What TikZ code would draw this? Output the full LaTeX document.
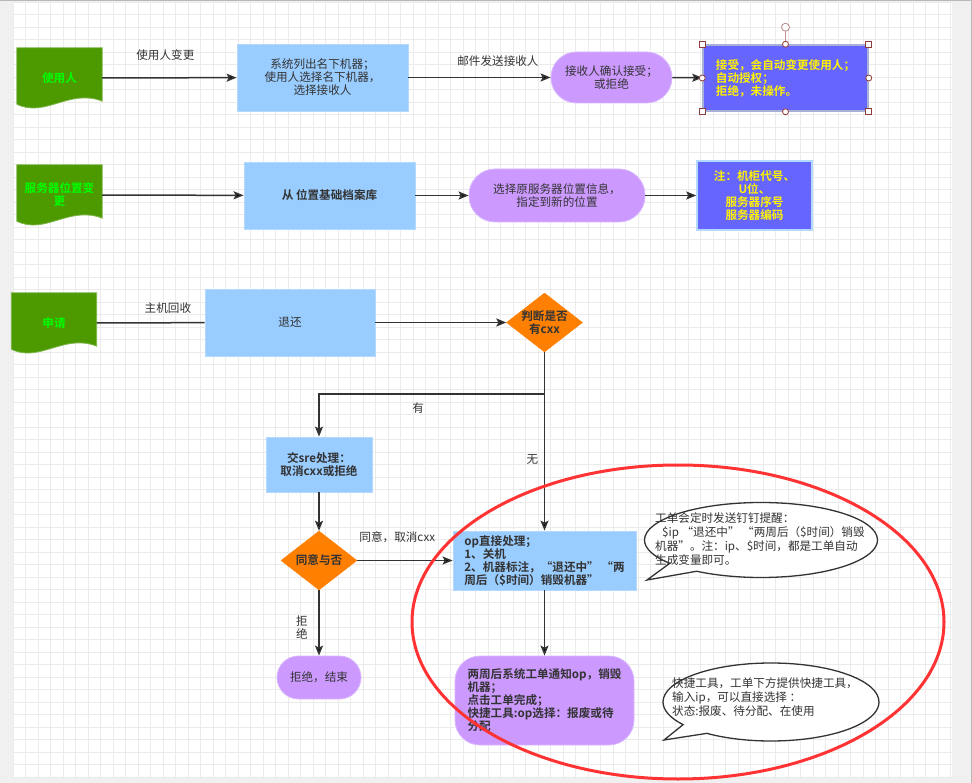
\documentclass[tikz,border=0pt]{standalone}
\usepackage{fontspec}
\setmainfont{Noto Sans CJK SC}[BoldFont={Noto Sans CJK SC Bold}]
\usetikzlibrary{arrows.meta,shapes.geometric,shapes.callouts,backgrounds,calc}

\definecolor{docgreen}{HTML}{4D9900}
\definecolor{docline}{HTML}{7DB54A}
\definecolor{fontgreen}{HTML}{00FF00}
\definecolor{boxblue}{HTML}{99CCFF}
\definecolor{boxline}{HTML}{B3D9FF}
\definecolor{roundpurple}{HTML}{CC99FF}
\definecolor{roundline}{HTML}{D9B8FF}
\definecolor{noteblue}{HTML}{6666FF}
\definecolor{notesel}{HTML}{A8B0D8}
\definecolor{diaorange}{HTML}{FF8000}
\definecolor{inkgray}{HTML}{333333}
\definecolor{gridline}{HTML}{EBEBEB}
\definecolor{pagegray}{HTML}{F0F0F0}
\definecolor{pageline}{HTML}{B8B8B8}
\definecolor{handlered}{HTML}{8E3B3B}
\definecolor{markred}{HTML}{FF3333}

\newcommand{\flowfont}{\fontsize{11.6}{13}\selectfont}

\begin{document}
\begin{tikzpicture}[x=1pt,y=-1pt,>={Stealth[length=10pt,width=8pt,inset=2pt]},
  font=\flowfont,text=inkgray,
  doc node/.style={rectangle,minimum width=85pt,minimum height=60pt,inner sep=0pt,
    text=fontgreen,font=\flowfont\bfseries,align=center},
  blue node/.style={rectangle,fill=boxblue,draw=boxline,line width=0.8pt,align=center},
  round node/.style={rectangle,rounded corners=#1,fill=roundpurple,draw=roundline,
    line width=0.8pt,align=center},
  note node/.style={rectangle,fill=noteblue,line width=1.5pt,text=yellow,font=\flowfont\bfseries},
  dec node/.style={diamond,fill=diaorange,draw=diaorange,inner sep=-2pt,aspect=1.29,
    minimum width=76pt,minimum height=59pt,align=center,font=\flowfont\bfseries},
  bubble/.style={ellipse callout,draw=inkgray,line width=1.3pt,fill=white,callout pointer arc=18},
  bubble text/.style={text=inkgray,anchor=west,align=left,inner sep=0pt,
    font=\fontsize{11.6}{13.8}\selectfont},
  flow/.style={->,draw=inkgray,line width=1.5pt},
  lbl/.style={text=inkgray,font=\flowfont,align=center,inner sep=0pt},
  handle/.style={draw=handlered,fill=white,line width=0.8pt}]
  \useasboundingbox (0,0) rectangle (972,783);

  \node[doc node] (use) at (59.5,78) {使用人};
  \node[blue node,minimum width=171pt,minimum height=67pt] (pick) at (322.5,77.5) {系统列出名下机器；\\使用人选择名下机器，\\选择接收人};
  \node[round node=25.5pt,minimum width=121pt,minimum height=51pt] (confirm) at (611.5,77.5) {接收人确认接受；\\或拒绝};
  \node[note node,draw=notesel,minimum width=165pt,minimum height=66pt,align=left] (autonote) at (785.5,78) {接受，会自动变更使用人；\\自动授权；\\拒绝，未操作。};

  \node[doc node] (srv) at (59.5,195) {服务器位置变\\更};
  \node[blue node,font=\flowfont\bfseries,minimum width=171pt,minimum height=67pt] (archive) at (329.5,195.5) {从 位置基础档案库};
  \node[round node=26pt,minimum width=176pt,minimum height=53pt] (relocate) at (557,195.5) {选择原服务器位置信息，\\指定到新的位置};
  \node[note node,draw=boxline,align=center,minimum width=115pt,minimum height=69pt] (fieldnote) at (754.5,195.5) {注：机柜代号、\\U位、\\服务器序号\\服务器编码};

  \node[doc node] (apply) at (54,323) {申请};
  \node[blue node,minimum width=170pt,minimum height=67pt] (giveback) at (290,322.5) {退还};
  \node[dec node] (judge) at (544.5,322.5) {判断是否\\有cxx};
  \coordinate (split) at (544.5,394);
  \node[blue node,font=\flowfont\bfseries,minimum width=106pt,minimum height=55pt] (sre) at (319,464.5) {交sre处理：\\取消cxx或拒绝};
  \node[dec node] (agree) at (319,560.5) {同意与否};
  \node[blue node,font=\flowfont\bfseries,minimum width=183pt,minimum height=59pt,align=left] (opbox) at (544.5,560.5) {op直接处理；\\1、关机\\2、机器标注，“退还中” “两\\周后（\$时间）销毁机器”};
  \node[round node=21.5pt,minimum width=84pt,minimum height=43pt] (reject) at (319,677.5) {拒绝，结束};
  \node[round node=25pt,font=\flowfont\bfseries,minimum width=179pt,minimum height=89pt,align=left] (destroy) at (544.5,700.5) {两周后系统工单通知op，销毁\\机器；\\点击工单完成；\\快捷工具:op选择：报废或待\\分配};

  \node[bubble,minimum width=233pt,minimum height=75pt,callout absolute pointer={(647,580)}] (tipcall) at (761,540) {};
  \node[bubble text] (tiptext) at (655,539) {工单会定时发送钉钉提醒：\\\hspace*{7pt}\$ip “退还中” “两周后（\$时间）销毁\\机器”。注：ip、\$时间，都是工单自动\\生成变量即可。};
  \node[bubble,minimum width=216pt,minimum height=78pt,callout absolute pointer={(664,740)}] (toolcall) at (771,702) {};
  \node[bubble text] (tooltext) at (672,697) {快捷工具，工单下方提供快捷工具，\\输入ip，可以直接选择 ：\\状态:报废、待分配、在使用};

  \path[flow]
    (use) edge node[lbl,pos=.47,yshift=23pt] {使用人变更} (pick)
    (pick) edge node[lbl,pos=.63,yshift=16pt] {邮件发送接收人} (confirm)
    (confirm) edge (autonote)
    (srv) edge (archive)
    (archive) edge (relocate)
    (relocate) edge (fieldnote)
    (giveback) edge (judge)
    (judge) edge node[lbl,pos=.6,xshift=-12pt] {无} (opbox)
    (sre) edge (agree)
    (agree) edge node[lbl,pos=.42,yshift=23pt] {同意，取消cxx} (opbox)
    (agree) edge node[lbl,pos=.57,xshift=-17pt] {拒\\绝} (reject)
    (opbox) edge (destroy);
  \draw[flow,-] (apply) -- node[lbl,pos=.66,yshift=15pt] {主机回收} (giveback);
  \draw[flow] (split) -| node[lbl,pos=.28,yshift=-14pt] {有} (sre);

  \foreach \c in {north west,north east,south west,south east}
    \draw[handle] ($(autonote.\c)+(-3,-3)$) rectangle +(6,6);
  \foreach \c in {north,south,east,west}
    \draw[handle] (autonote.\c) circle[radius=3pt];
  \draw[handlered!55,line width=0.8pt] ($(autonote.north)+(0,-3)$) -- ++(0,-10);
  \draw[handle,draw=handlered!60] ($(autonote.north)+(0,-17)$) circle[radius=4pt];

  \draw[markred,line width=3pt] (678,622) ellipse [x radius=266pt,y radius=157pt];

  \begin{scope}[on background layer]
    \fill[pagegray] (0,0) rectangle (972,783);
    \fill[white] (13,2) rectangle (952,777);
    \foreach \gx in {13,25.5,...,952} \draw[gridline,line width=0.8pt] (\gx,2) -- (\gx,777);
    \foreach \gy in {2,14.5,...,777} \draw[gridline,line width=0.8pt] (13,\gy) -- (952,\gy);
    \draw[pageline,line width=1.5pt] (0,0.75) -- (972,0.75);
    \draw[pageline,line width=1pt] (971.5,0) -- (971.5,783);
    \foreach \d in {use,srv,apply}
      \filldraw[fill=docgreen,draw=docline,line width=0.8pt] (\d.north west) -- (\d.north east)
        -- ($(\d.south east)+(0,-7)$) .. controls ($(\d.south west)+(53,-20)$) and ($(\d.south west)+(28,10)$)
        .. ($(\d.south west)+(0,-4)$) -- cycle;
  \end{scope}
\end{tikzpicture}
\end{document}
